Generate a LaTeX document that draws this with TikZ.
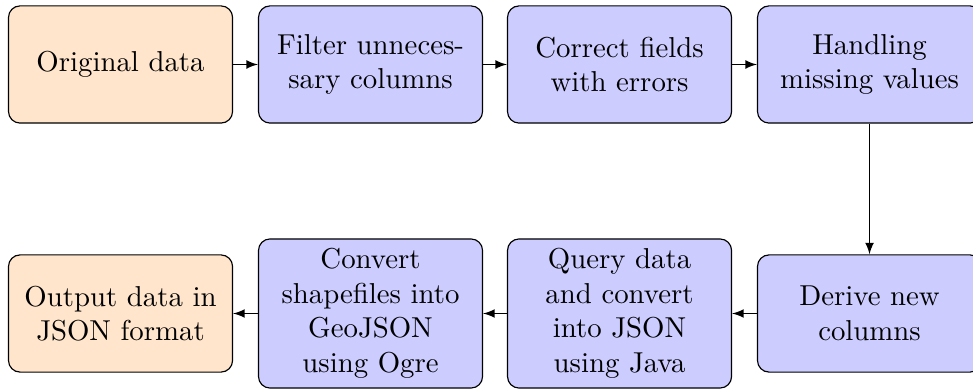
\documentclass[tikz,border=0pt]{standalone}
\usepackage{tikz}
\usetikzlibrary{calc}

\begin{document}
\begin{tikzpicture}[
 >={latex},
 proc/.style={
  inner sep=3.333pt,
  draw=black,
  rectangle,
  rounded corners,
  fill=blue!20,
  text width=2.5cm,
  minimum height=1.43cm,
  align=center,
 },
 io/.style={
  proc,
  fill=orange!20,
 }
]

\useasboundingbox (0,0) rectangle (11.875,-4.748);

\node at (1.471,-0.787) [io] (orig) {Original data};
\node at (4.522,-0.787) [proc] (filter) {Filter unnecessary columns};
\node at (7.561,-0.787) [proc] (correct) {Correct fields with errors};
\node at (10.612,-0.787) [proc] (missing) {Handling missing values};

\draw[->] (orig.east) -- (filter.west);
\draw[->] (filter.east) -- (correct.west);
\draw[->] (correct.east) -- (missing.west);

\node at (10.612,-3.826) [proc] (derive) {Derive new columns};
\node at (7.561,-3.826) [proc] (query) {Query data and convert into JSON using Java};
\node at (4.522,-3.826) [proc] (convert) {Convert shapefiles into GeoJSON using Ogre};
\node at (1.471,-3.826) [io] (output) {Output data in JSON format};

\draw[->] (missing.south) -- (derive.north);
\draw[->] (derive.west) -- (query.east);
\draw[->] (query.west) -- (convert.east);
\draw[->] (convert.west) -- (output.east);

\end{tikzpicture}
\end{document}
